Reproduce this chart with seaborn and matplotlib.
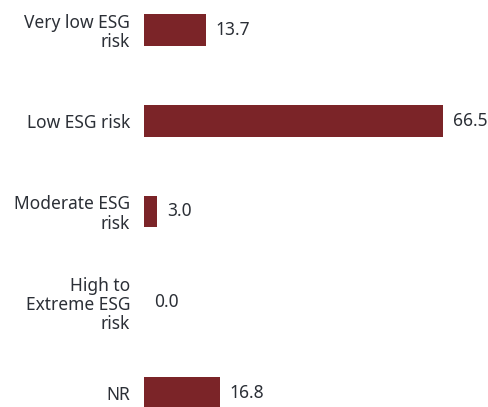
import pandas as pd
import matplotlib
matplotlib.use('Agg')
import matplotlib.pyplot as plt
import seaborn as sns

# Data
categories = ['Very low ESG\nrisk', 'Low ESG risk', 'Moderate ESG\nrisk',
              'High to\nExtreme ESG\nrisk', 'NR']
values = [13.7, 66.5, 3.0, 0.0, 16.8]

sns.set_theme(style='white')
plt.rcParams['font.family'] = ['Noto Sans', 'DejaVu Sans']

df = pd.DataFrame({'category': categories, 'value': values})

bar_color = '#7b2428'
text_color = '#2b2f36'

fig = plt.figure(figsize=(4.88, 4.07), dpi=100)
ax = fig.add_axes([0.295, 0.0, 0.705, 1.0])

sns.barplot(data=df, x='value', y='category', orient='h', color=bar_color,
            saturation=1, width=0.35, linewidth=0, ax=ax)

ax.set_xlim(0, 76.4)
ax.set_ylim(4.154, -0.33)

for i, v in enumerate(values):
    ax.text(v + 2.2, i, f'{v:.1f}', va='center', ha='left',
            fontsize=12.5, color=text_color)

ax.set_xlabel('')
ax.set_ylabel('')
ax.set_xticks([])
ax.tick_params(axis='y', length=0, pad=10, labelsize=12.5, labelcolor=text_color)
for lbl in ax.get_yticklabels():
    lbl.set_horizontalalignment('right')
    lbl.set_linespacing(1.1)
sns.despine(ax=ax, left=True, bottom=True)

plt.savefig('out.png', dpi=100)
